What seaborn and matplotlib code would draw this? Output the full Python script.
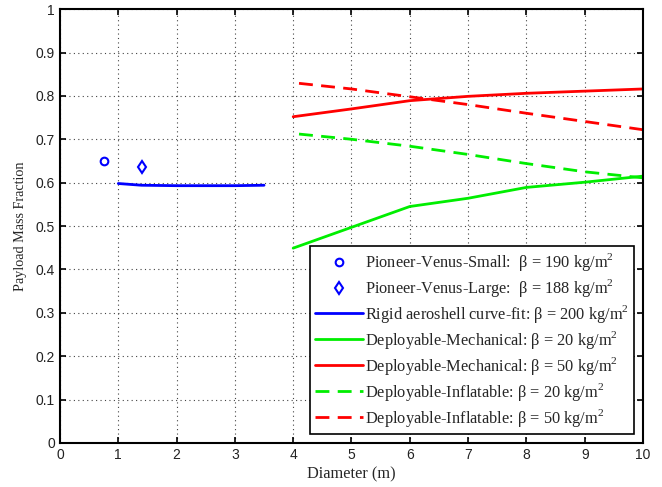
import pandas as pd
import seaborn as sns
import matplotlib.pyplot as plt

# Values
pv_small_d = [0.76]
pv_small_pmf = [0.65]
pv_large_d = [1.40]
pv_large_pmf = [0.637]

rigid_d = [1.0, 1.2, 1.4, 2.0, 2.5, 3.0, 3.5]
rigid_pmf = [0.598, 0.596, 0.594, 0.593, 0.593, 0.593, 0.594]

mech_d = [4, 5, 6, 7, 8, 9, 10]
mech20_pmf = [0.449, 0.497, 0.545, 0.564, 0.589, 0.601, 0.615]
mech50_pmf = [0.752, 0.770, 0.789, 0.799, 0.806, 0.811, 0.816]

infl_d = [4.1, 5, 6, 7, 8, 9, 10]
infl20_pmf = [0.712, 0.700, 0.684, 0.665, 0.644, 0.625, 0.611]
infl50_pmf = [0.829, 0.816, 0.798, 0.780, 0.760, 0.741, 0.722]

x_ticks = list(range(0, 11))
y_ticks = [0, 0.1, 0.2, 0.3, 0.4, 0.5, 0.6, 0.7, 0.8, 0.9, 1]
y_tick_labels = ['0', '0.1', '0.2', '0.3', '0.4', '0.5', '0.6', '0.7',
                 '0.8', '0.9', '1']

sns.set_style('ticks')
plt.rcParams['font.family'] = ['Liberation Serif', 'DejaVu Serif']
plt.rcParams['mathtext.fontset'] = 'custom'
plt.rcParams['mathtext.rm'] = 'Liberation Serif'

fig = plt.figure(figsize=(6.62, 4.87), dpi=100)
ax = fig.add_axes([0.0906, 0.0906, 0.8807, 0.8906])

ax.plot(pv_small_d, pv_small_pmf, 'o', color='blue', mfc='none', mew=1.5,
        ms=5.5, label='Pioneer-Venus-Small:  β = 190 kg/m$^2$')
ax.plot(pv_large_d, pv_large_pmf, 'd', color='blue', mfc='none', mew=1.5,
        ms=6.5, label='Pioneer-Venus-Large:  β = 188 kg/m$^2$')

rigid = pd.DataFrame({'d': rigid_d, 'pmf': rigid_pmf})
sns.lineplot(data=rigid, x='d', y='pmf', ax=ax, color='blue', lw=2,
             label='Rigid aeroshell curve-fit: β = 200 kg/m$^2$')

mech = pd.DataFrame({'d': mech_d, 'b20': mech20_pmf, 'b50': mech50_pmf})
sns.lineplot(data=mech, x='d', y='b20', ax=ax, color='#00ee00', lw=2,
             label='Deployable-Mechanical: β = 20 kg/m$^2$')
sns.lineplot(data=mech, x='d', y='b50', ax=ax, color='red', lw=2,
             label='Deployable-Mechanical: β = 50 kg/m$^2$')

infl = pd.DataFrame({'d': infl_d, 'b20': infl20_pmf, 'b50': infl50_pmf})
sns.lineplot(data=infl, x='d', y='b20', ax=ax, color='#00ee00', lw=2,
             ls=(0, (5, 3)),
             label='Deployable-Inflatable: β = 20 kg/m$^2$')
sns.lineplot(data=infl, x='d', y='b50', ax=ax, color='red', lw=2,
             ls=(0, (5, 3)),
             label='Deployable-Inflatable: β = 50 kg/m$^2$')

ax.set_xlim(0, 10)
ax.set_ylim(0, 1)
ax.set_xticks(x_ticks)
ax.set_yticks(y_ticks)
ax.set_yticklabels(y_tick_labels)
ax.set_xlabel('Diameter (m)', fontsize=11.8, labelpad=3)
ax.set_ylabel('Payload Mass Fraction', fontsize=10.2, labelpad=6)

ax.grid(True, color='#444444', ls=(0, (1, 3)), lw=0.8)
ax.tick_params(direction='in', top=True, right=True, length=4, width=1.2,
               labelsize=10, color='black')
for lbl in ax.get_xticklabels() + ax.get_yticklabels():
    lbl.set_family(['Liberation Sans Narrow', 'Liberation Sans'])
    lbl.set_color('#222222')
for s in ax.spines.values():
    s.set_linewidth(1.5)
    s.set_color('black')

leg = ax.legend(loc='lower right', fontsize=11.8, frameon=True,
                fancybox=False, edgecolor='black', framealpha=1,
                borderaxespad=0.55, handlelength=2.9, handletextpad=0.15,
                labelspacing=0.24, borderpad=0.3)
leg.get_frame().set_linewidth(1.2)

fig.savefig('out.png', dpi=100)
